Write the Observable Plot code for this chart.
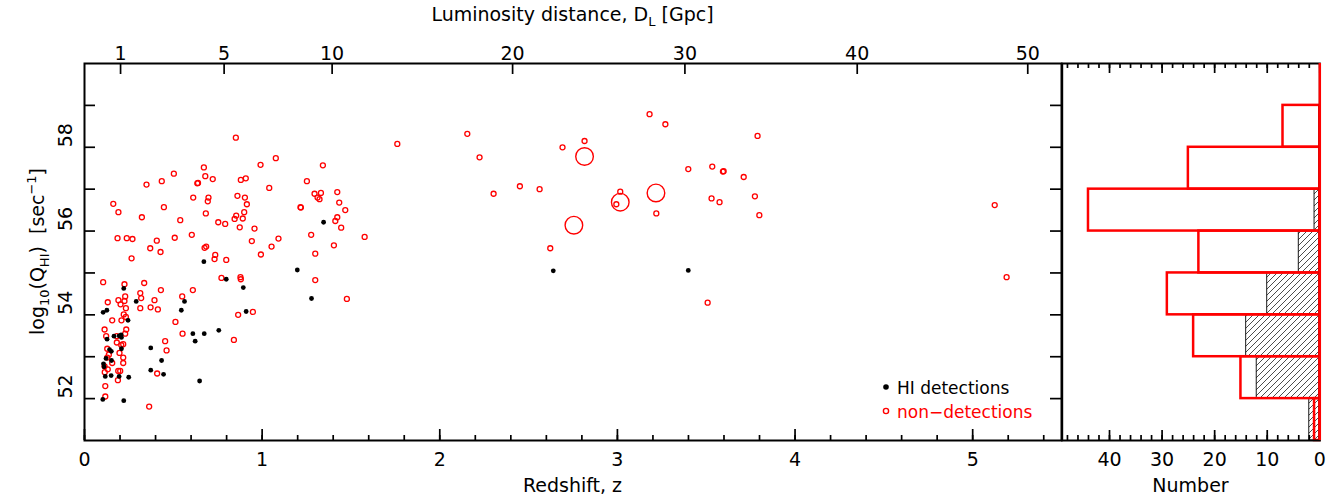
<!DOCTYPE html>
<html><head><meta charset="utf-8">
<script src="https://cdn.jsdelivr.net/npm/d3@7"></script>
<script src="https://cdn.jsdelivr.net/npm/@observablehq/plot@0.6"></script>
<style>
html,body{margin:0;padding:0;background:#fff;}
#wrap{position:relative;width:1336px;height:498px;overflow:hidden;background:#fff;}
#wrap svg{position:absolute;top:0;overflow:visible;max-width:none;}
</style></head><body><div id="wrap"></div>
<script>
// ---------- data ----------
// HI detections: redshift z and log10(Q_HI)
const detZ = [0.221,0.291,0.563,0.105,0.126,0.245,0.545,0.610,0.623,0.674,0.127,0.166,0.195,0.206,0.208,0.141,0.151,0.208,0.373,0.121,0.152,0.107,0.110,0.434,0.373,0.445,0.117,0.150,0.195,0.249,0.103,0.221,0.672,0.756,0.798,0.894,0.910,0.648,1.198,1.278,1.346,2.639,3.399];
const detQ = [54.63,54.32,54.32,54.06,54.11,53.87,54.11,53.55,53.37,53.55,53.42,53.49,53.50,53.52,53.46,53.17,53.13,53.19,53.21,52.96,52.91,52.83,52.76,52.91,52.68,52.58,52.53,52.55,52.53,52.51,51.98,51.95,55.27,53.63,54.85,54.65,54.08,52.42,55.07,54.39,56.21,55.05,55.06];
// non-detections (small symbols)
const nonZ = [
 2.155,1.761,3.181,3.270,3.789,0.852,2.815,
 2.691,2.224,0.503,0.349,0.435,0.672,0.991,1.077,1.342,0.680,0.635,0.639,0.722,0.880,0.908,1.040,1.252,2.451,2.562,3.399,3.534,3.594,3.598,3.711,
 0.162,0.191,0.323,0.447,0.539,0.612,0.698,0.694,0.861,0.903,0.914,0.683,0.899,0.854,0.845,0.891,0.753,0.792,0.874,0.957,1.216,1.218,1.295,1.331,1.312,1.323,1.423,1.434,1.423,1.412,1.445,2.303,1.468,3.016,2.994,3.219,3.530,3.575,3.774,3.799,5.124,
 0.186,0.238,0.270,0.407,0.508,0.604,0.370,0.428,0.265,0.676,0.685,0.736,0.732,0.798,0.942,1.053,1.092,0.993,1.276,1.299,1.404,2.622,1.577,
 0.105,0.225,0.336,0.430,0.314,0.319,0.229,0.191,0.225,0.203,0.131,0.233,0.394,0.372,0.413,0.314,0.550,0.610,0.221,0.771,0.878,0.880,1.299,0.865,0.948,1.477,5.191,3.508,
 0.233,0.156,0.208,0.512,0.113,0.235,0.229,0.552,0.122,0.182,0.454,0.182,0.218,0.207,0.128,0.462,0.197,0.137,0.841,
 0.128,0.218,0.156,0.218,0.113,0.131,0.190,0.201,0.114,0.188,0.409,0.117,0.117,
 0.364];
const nonQ = [
 58.32,58.08,58.79,58.55,58.27,58.23,58.15,
 58.00,57.76,57.37,57.11,57.19,57.52,57.58,57.74,57.57,57.31,57.14,57.15,57.24,57.22,57.26,57.03,57.19,57.07,57.00,57.48,57.54,57.42,57.43,57.29,
 56.65,56.45,56.33,56.57,56.26,56.80,56.80,56.71,56.84,56.80,56.64,56.42,56.45,56.37,56.29,56.30,56.21,56.17,56.09,56.06,56.57,56.56,56.89,56.91,56.80,56.76,56.93,56.68,56.33,56.24,56.08,56.89,56.50,56.94,56.64,56.42,56.78,56.69,56.83,56.38,56.62,
 55.83,55.83,55.81,55.77,55.84,55.91,55.59,55.50,55.35,55.60,55.63,55.43,55.33,55.31,55.76,55.63,55.82,55.44,55.91,55.46,55.66,55.59,55.86,
 54.78,54.73,54.76,54.59,54.52,54.40,54.44,54.35,54.33,54.25,54.30,54.16,54.35,54.18,54.13,54.16,54.44,54.59,54.01,54.88,54.90,54.85,54.83,54.00,54.07,54.38,54.90,54.29,
 53.95,53.87,53.87,53.83,53.65,53.65,53.55,53.55,53.49,53.49,53.37,53.34,53.30,53.28,53.19,53.15,53.09,53.05,53.40,
 52.98,52.98,52.85,52.85,52.77,52.70,52.66,52.66,52.63,52.44,52.60,52.30,52.05,
 51.81];
// non-detections drawn with large symbols
const bigZ = [2.815,2.755,3.016,3.217];
const bigQ = [57.78,56.14,56.69,56.91];

// histogram of log10(Q_HI)
const binLo = [51,52,53,54,55,56,57,58];
const nonCount = [1,15,24,29,23,44,25,7];
const detCount = [2,12,14,10,4,1,0,0];

// axis ticks
const xMajor = [0,1,2,3,4,5];
const xMinor = d3.range(0, 5.5, 0.2);
const dlLabels = [1,5,10,20,30,40,50];      // luminosity distance [Gpc]
const dlZ = [0.203,0.786,1.394,2.41,3.38,4.35,5.31]; // corresponding redshift
const yTicks = [52,53,54,55,56,57,58,59];
const yLabels = [52,54,56,58];
const nMajor = [0,10,20,30,40];
const nMinor = d3.range(0, 49, 2);

// ---------- build ----------
const det = detZ.map((z,i)=>({z, q:detQ[i]}));
const non = nonZ.map((z,i)=>({z, q:nonQ[i]}));
const big = bigZ.map((z,i)=>({z, q:bigQ[i]}));
const bins = binLo.map((lo,i)=>({lo, hi:lo+1, non:nonCount[i], det:detCount[i]}));

const FONT = "DejaVu Sans";
const RED = "#ff0000";
const H = 498, MT = 63, MB = 58;
const frameH = H - MT - MB;
const mainW = 1062, ML = 84, MR = 1, frameW = mainW - ML - MR;
const tk = {stroke:"black", strokeWidth:1.7};

const main = Plot.plot({
  width: mainW, height: H, marginLeft: ML, marginRight: MR, marginTop: MT, marginBottom: MB,
  style: {fontFamily: FONT, background: "transparent", overflow: "visible"},
  x: {domain: [0, 5.5], axis: null},
  y: {domain: [51, 60], axis: null},
  marks: [
    Plot.dot(non, {x:"z", y:"q", r:2.5, stroke:RED, strokeWidth:1.3, fill:"none"}),
    Plot.dot(big, {x:"z", y:"q", r:8.8, stroke:RED, strokeWidth:1.4, fill:"none"}),
    Plot.dot(det, {x:"z", y:"q", r:2.4, fill:"black", stroke:"none"}),
    Plot.tickX(xMinor, {x:d=>d, insetTop: frameH-5, ...tk}),
    Plot.tickX(xMajor, {x:d=>d, insetTop: frameH-11, ...tk}),
    Plot.tickX(dlZ, {x:d=>d, insetBottom: frameH-11, ...tk}),
    Plot.tickY(yTicks, {y:d=>d, insetRight: frameW-11, ...tk}),
    Plot.tickY(yTicks, {y:d=>d, insetLeft: frameW-11, ...tk}),
    Plot.frame({stroke:"black", strokeWidth:2}),
    Plot.text(xMajor, {x:d=>d, text:d=>String(d), frameAnchor:"bottom", dy:25, fontSize:19, fill:"black"}),
    Plot.text(dlZ, {x:d=>d, text:(d,i)=>String(dlLabels[i]), frameAnchor:"top", dy:-17, fontSize:19, fill:"black"}),
    Plot.text(yLabels, {y:d=>d, text:d=>String(d), frameAnchor:"left", dx:-19, rotate:-90, fontSize:19, fill:"black"})
  ]
});
main.style.left = "0px";
document.getElementById("wrap").appendChild(main);

const HL = 1040, hW = 296, hML = 1061.7 - HL, hMR = hW - (1319.3 - HL);
const hist = Plot.plot({
  width: hW, height: H, marginLeft: hML, marginRight: hMR, marginTop: MT, marginBottom: MB,
  style: {fontFamily: FONT, background: "transparent", overflow: "visible"},
  x: {domain: [49, 0], axis: null},
  y: {domain: [51, 60], axis: null},
  marks: [
    Plot.rectX(bins.filter(d=>d.det>0), {y1:"lo", y2:"hi", x1:d=>0, x2:"det", fill:"url(#hatch)", stroke:"black", strokeWidth:0.9}),
    Plot.rectX(bins, {y1:"lo", y2:"hi", x1:d=>0, x2:"non", fill:"none", stroke:RED, strokeWidth:2.5}),
    Plot.tickX(nMinor, {x:d=>d, insetTop: frameH-5, ...tk}),
    Plot.tickX(nMajor, {x:d=>d, insetTop: frameH-10, ...tk}),
    Plot.tickX(nMinor, {x:d=>d, insetBottom: frameH-5, ...tk}),
    Plot.tickX(nMajor, {x:d=>d, insetBottom: frameH-10, ...tk}),
    Plot.frame({stroke:"black", strokeWidth:2}),
    Plot.ruleX([0], {stroke:RED, strokeWidth:2.5}),
    Plot.text(nMajor, {x:d=>d, text:d=>String(d), frameAnchor:"bottom", dy:25, fontSize:19, fill:"black"})
  ]
});
hist.style.left = HL + "px";
document.getElementById("wrap").appendChild(hist);

// hatch pattern
const defs = d3.select(hist).insert("defs", ":first-child");
const pat = defs.append("pattern").attr("id","hatch").attr("patternUnits","userSpaceOnUse")
  .attr("width",6).attr("height",6);
pat.append("rect").attr("width",6).attr("height",6).attr("fill","white");
pat.append("path").attr("d","M-1,1 L1,-1 M0,6 L6,0 M5,7 L7,5").attr("stroke","black").attr("stroke-width",0.7);

// titles and legend
const ms = d3.select(main);
const t1 = ms.append("text").attr("x", 572.5).attr("y", 21).attr("text-anchor","middle")
  .attr("font-family",FONT).attr("font-size",19).attr("fill","black");
t1.append("tspan").text("Luminosity distance, D");
t1.append("tspan").attr("font-size",13).attr("dy",5).text("L");
t1.append("tspan").attr("dy",-5).text(" [Gpc]");

ms.append("text").attr("x",572.5).attr("y",492).attr("text-anchor","middle")
  .attr("font-family",FONT).attr("font-size",19).attr("fill","black").text("Redshift, z");

const yl = ms.append("text").attr("transform","translate(44,251.5) rotate(-90)").attr("text-anchor","middle")
  .attr("font-family",FONT).attr("font-size",19).attr("fill","black");
yl.append("tspan").text("log");
yl.append("tspan").attr("font-size",13).attr("dy",5).text("10");
yl.append("tspan").attr("dy",-5).text("(Q");
yl.append("tspan").attr("font-size",13).attr("dy",5).text("HI");
yl.append("tspan").attr("dy",-5).text(")  [sec");
yl.append("tspan").attr("font-size",13).attr("dy",-8).text("\u22121");
yl.append("tspan").attr("dy",8).text("]");

ms.append("circle").attr("cx",886).attr("cy",387).attr("r",2.8).attr("fill","black");
ms.append("text").attr("x",897).attr("y",394).attr("text-anchor","start").attr("font-family",FONT).attr("font-size",17).attr("fill","black").text("HI detections");
ms.append("circle").attr("cx",886).attr("cy",411).attr("r",2.6).attr("fill","none").attr("stroke",RED).attr("stroke-width",1.4);
ms.append("text").attr("x",897).attr("y",418).attr("text-anchor","start").attr("font-family",FONT).attr("font-size",17).attr("fill",RED).text("non\u2212detections");

d3.select(hist).append("text").attr("x",1190.5-HL).attr("y",492).attr("text-anchor","middle")
  .attr("font-family",FONT).attr("font-size",19).attr("fill","black").text("Number");
</script></body></html>
